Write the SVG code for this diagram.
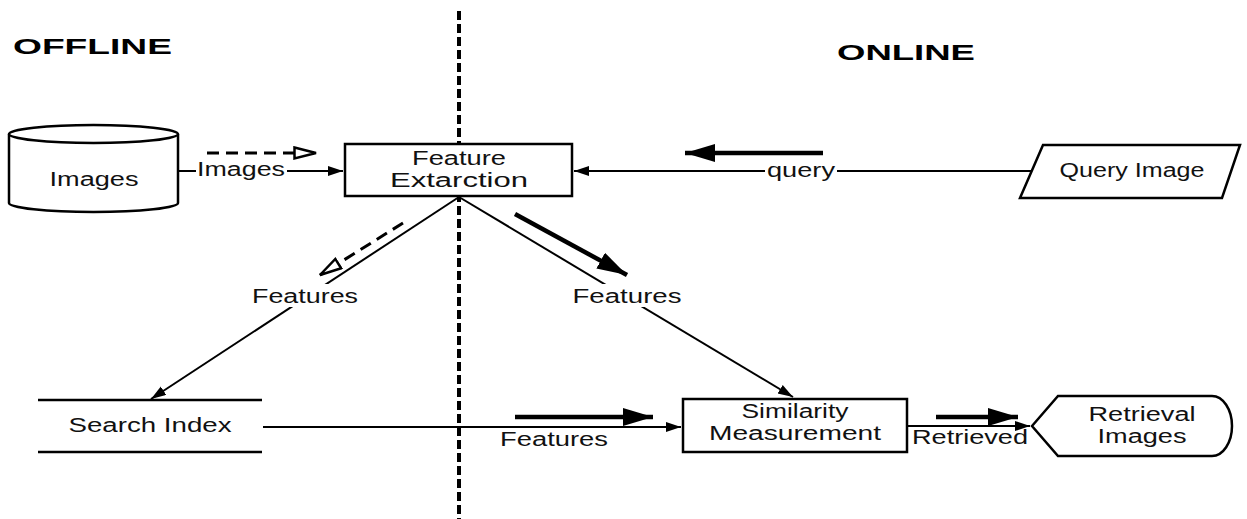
<svg xmlns="http://www.w3.org/2000/svg" width="1247" height="519" viewBox="0 0 1247 519">
<style>
.t{font-family:"Liberation Sans",Arial,sans-serif;font-size:19.5px;fill:#111;text-anchor:middle}
.h{font-family:"Liberation Sans",Arial,sans-serif;font-size:22px;font-weight:bold;fill:#000}
.shape{fill:#fff;stroke:#000;stroke-width:2.5}
.e{fill:none;stroke:#000;stroke-width:2}
.thick{fill:none;stroke:#000;stroke-width:4.5}
.dash{fill:none;stroke:#000;stroke-width:3;stroke-dasharray:12 7}
.lbl{fill:#fff}
</style>
<defs>
<marker id="a" markerUnits="userSpaceOnUse" markerWidth="16" markerHeight="12" refX="15" refY="5" orient="auto"><path d="M0,0 L15,5 L0,10 Z" fill="#000"/></marker>
<marker id="big" markerUnits="userSpaceOnUse" markerWidth="32" markerHeight="20" refX="30" refY="9" orient="auto"><path d="M0,0 L30,9 L0,18 Z" fill="#000"/></marker>
<marker id="open" markerUnits="userSpaceOnUse" markerWidth="26" markerHeight="16" refX="23" refY="7" orient="auto"><path d="M1.5,1.5 L23,7 L1.5,12.5 Z" fill="#fff" stroke="#000" stroke-width="2.5"/></marker>
</defs>
<rect width="1247" height="519" fill="#fff"/>
<text class="h" x="13" y="54" textLength="159" lengthAdjust="spacingAndGlyphs">OFFLINE</text>
<text class="h" x="837" y="60" textLength="138" lengthAdjust="spacingAndGlyphs">ONLINE</text>
<line x1="459" y1="11" x2="459" y2="519" stroke="#000" stroke-width="4" stroke-dasharray="9 4"/>
<g id="connectors">
<path class="e" d="M178,171 L343,171" marker-end="url(#a)"/>
<path class="e" d="M1031,171 L574,171" marker-end="url(#a)"/>
<path class="e" d="M459,197 L151,399" marker-end="url(#a)"/>
<path class="e" d="M459,197 L793,397" marker-end="url(#a)"/>
<path class="e" d="M263,427 L681,427" marker-end="url(#a)"/>
<path class="e" d="M907,426 L1030,426" marker-end="url(#a)"/>
<path class="dash" d="M207,153 L316,153" marker-end="url(#open)"/>
<path class="dash" d="M403,223 L320,275" marker-end="url(#open)"/>
<path class="thick" d="M823,153 L685,153" marker-end="url(#big)"/>
<path class="thick" d="M515,214 L627,275" marker-end="url(#big)"/>
<path class="thick" d="M515,417 L653,417" marker-end="url(#big)"/>
<path class="thick" d="M936,417 L1018,417" marker-end="url(#big)"/>
<rect class="lbl" x="196" y="160" width="91" height="21"/>
<text class="t" x="241" y="176" textLength="88" lengthAdjust="spacingAndGlyphs">Images</text>
<rect class="lbl" x="765" y="161" width="72" height="21"/>
<text class="t" x="801" y="177" textLength="68" lengthAdjust="spacingAndGlyphs">query</text>
<rect class="lbl" x="250" y="284" width="110" height="23"/>
<text class="t" x="305" y="303" textLength="106" lengthAdjust="spacingAndGlyphs">Features</text>
<rect class="lbl" x="571" y="284" width="113" height="23"/>
<text class="t" x="627" y="303" textLength="109" lengthAdjust="spacingAndGlyphs">Features</text>
<text class="t" x="554" y="446" textLength="108" lengthAdjust="spacingAndGlyphs">Features</text>
<text class="t" x="970" y="444" textLength="116" lengthAdjust="spacingAndGlyphs">Retrieved</text>
</g>
<g id="images">
<path class="shape" d="M9,134 A84.5,9 0 0 1 178,134 V203 A84.5,9 0 0 1 9,203 Z"/>
<path class="shape" fill="none" d="M9,134 A84.5,9 0 0 0 178,134"/>
<text class="t" x="94" y="186" textLength="89" lengthAdjust="spacingAndGlyphs">Images</text>
</g>
<g id="feature-extraction">
<rect class="shape" x="345" y="144" width="227" height="52"/>
<text class="t" x="459" y="165" textLength="94" lengthAdjust="spacingAndGlyphs">Feature</text>
<text class="t" x="459" y="187" textLength="138" lengthAdjust="spacingAndGlyphs">Extarction</text>
</g>
<g id="query-image">
<polygon class="shape" points="1043,145 1240,145 1222,198 1020,198"/>
<text class="t" x="1132" y="177" textLength="145" lengthAdjust="spacingAndGlyphs">Query Image</text>
</g>
<g id="search-index">
<line x1="38" y1="400" x2="262" y2="400" stroke="#000" stroke-width="2.5"/>
<line x1="38" y1="452" x2="262" y2="452" stroke="#000" stroke-width="2.5"/>
<text class="t" x="150" y="432" textLength="163" lengthAdjust="spacingAndGlyphs">Search Index</text>
</g>
<g id="similarity">
<rect class="shape" x="683" y="399" width="224" height="53"/>
<text class="t" x="795" y="418" textLength="107" lengthAdjust="spacingAndGlyphs">Similarity</text>
<text class="t" x="795" y="440" textLength="172" lengthAdjust="spacingAndGlyphs">Measurement</text>
</g>
<g id="retrieval-images">
<path class="shape" d="M1032,426 L1058,396 L1212,396 A20,30 0 0 1 1212,456 L1058,456 Z"/>
<text class="t" x="1142" y="421" textLength="107" lengthAdjust="spacingAndGlyphs">Retrieval</text>
<text class="t" x="1142" y="443" textLength="89" lengthAdjust="spacingAndGlyphs">Images</text>
</g>
</svg>
